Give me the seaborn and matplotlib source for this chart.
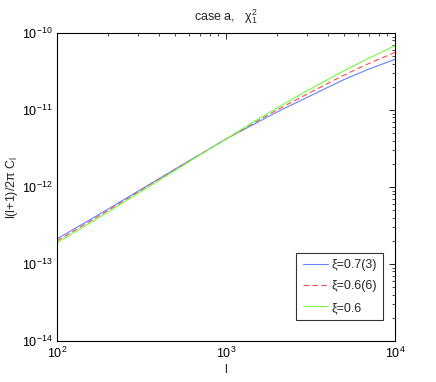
import numpy as np
import pandas as pd
import matplotlib
matplotlib.use("Agg")
import matplotlib.pyplot as plt
import seaborn as sns
from matplotlib.ticker import LogLocator, NullFormatter

ell = [100, 200, 300, 500, 700, 1000, 1500, 2000, 3000, 5000, 7000, 10000]
cl_073 = [2.11e-13, 5.15e-13, 8.77e-13, 1.71e-12, 2.65e-12, 4.20e-12,
          6.74e-12, 9.40e-12, 1.45e-11, 2.49e-11, 3.40e-11, 4.55e-11]
cl_066 = [1.99e-13, 4.94e-13, 8.51e-13, 1.68e-12, 2.62e-12, 4.20e-12,
          7.03e-12, 1.00e-11, 1.60e-11, 2.85e-11, 4.02e-11, 5.61e-11]
cl_060 = [1.89e-13, 4.73e-13, 8.24e-13, 1.64e-12, 2.61e-12, 4.20e-12,
          7.31e-12, 1.06e-11, 1.77e-11, 3.26e-11, 4.73e-11, 6.84e-11]
labels = ["ξ=0.7(3)", "ξ=0.6(6)", "ξ=0.6"]

sns.set_style("white")
plt.rcParams['font.family'] = ['Liberation Sans', 'DejaVu Sans']
plt.rcParams['mathtext.default'] = 'regular'
plt.rcParams['font.size'] = 9

fig = plt.figure(figsize=(4.36, 3.82), dpi=100)
ax = fig.add_axes([0.1307, 0.1073, 0.906 - 0.1307, 0.9136 - 0.1073])

styles = [("#6680ff", None), ("#ff4d4d", (5, 3)), ("#70ff40", None)]
for vals, lab, (col, dash) in zip([cl_073, cl_066, cl_060], labels, styles):
    df = pd.DataFrame({"l": ell, "C": vals})
    sns.lineplot(data=df, x="l", y="C", ax=ax, color=col, lw=0.8, label=lab)
    if dash is not None:
        ax.lines[-1].set_dashes(dash)

ax.set_xscale("log")
ax.set_yscale("log")
ax.set_xlim(100, 10000)
ax.set_ylim(1e-14, 1e-10)
ax.yaxis.set_major_locator(LogLocator(base=10, numticks=10))
ax.yaxis.set_minor_locator(LogLocator(base=10, subs=np.arange(2, 10), numticks=20))
ax.yaxis.set_minor_formatter(NullFormatter())
ax.xaxis.set_minor_formatter(NullFormatter())
ax.tick_params(which="both", direction="in", top=True, right=True, labelsize=9,
               colors="black")
ax.tick_params(which="major", length=4, width=0.6)
ax.tick_params(which="minor", length=2, width=0.5)
for s in ax.spines.values():
    s.set_color("black")
    s.set_linewidth(0.8)

ax.set_xlabel("l", fontsize=9, labelpad=2)
ax.set_ylabel("l(l+1)/2π C$_{l}$", fontsize=9)
ax.yaxis.set_label_coords(-0.11, 0.5)
ax.set_title("case a,   $\\chi_1^2$", fontsize=9, pad=9)

leg = ax.legend(loc="lower right", bbox_to_anchor=(0.9645, 0.068),
                borderaxespad=0.0, fontsize=9, frameon=True, fancybox=False,
                handlelength=2.0, labelspacing=0.75,
                borderpad=0.5, handletextpad=0.3)
leg.get_frame().set_edgecolor("black")
leg.get_frame().set_linewidth(0.8)

fig.savefig("out.png", dpi=100)
